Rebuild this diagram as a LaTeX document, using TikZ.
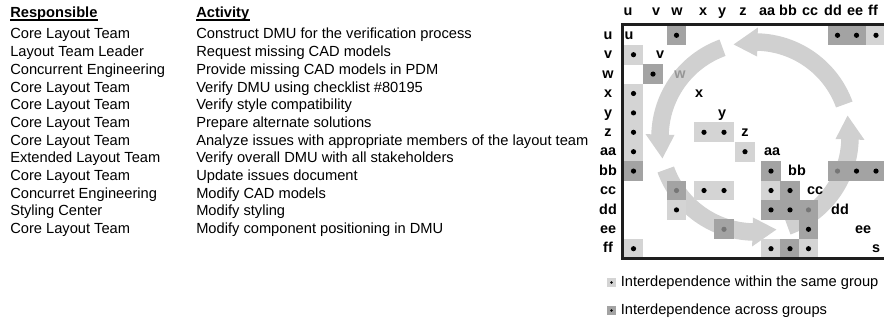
\documentclass[tikz,border=0pt]{standalone}
\usepackage{fontspec}
\setmainfont{Liberation Sans}
\usetikzlibrary{calc}

\definecolor{cellLight}{RGB}{212,212,212}
\definecolor{cellDark}{RGB}{163,163,163}
\definecolor{cycleGray}{RGB}{208,208,208}
\definecolor{dotGray}{RGB}{118,118,118}
\definecolor{labelGray}{RGB}{150,150,150}
\definecolor{frameInk}{RGB}{30,30,30}

\tikzset{
  txt/.style={font=\fontsize{11}{13}\selectfont, inner sep=0pt, anchor=base west},
  hdr/.style={txt, font=\fontsize{11}{13}\selectfont\bfseries},
  ulrule/.style={line width=1.2pt, black},
  mlabel/.style={font=\fontsize{10.8}{13}\selectfont\bfseries, inner sep=0pt, anchor=base},
  cellbox/.style={draw=none, inner sep=0pt, minimum width=14.9pt, minimum height=14.8pt},
  dotmark/.style={circle, inner sep=0pt, minimum size=3.9pt, draw=none},
  keybox/.style={draw=none, inner sep=0pt, minimum size=7pt},
  keydot/.style={circle, inner sep=0pt, minimum size=2pt, fill=black, draw=none},
  frameline/.style={draw=frameInk, line width=2.4pt, line join=miter},
}

% column centres of the matrix (pixel units)
\def\colX{{633.5,653,676.5,704,724,745,771,790,808.5,837.5,856.5,876}}

% one shaded cell of the matrix with its dot: row, column, shade, dot colour
\newcommand\mcell[4]{%
  \pgfmathsetmacro\cx{\colX[#2]}%
  \pgfmathsetmacro\cy{35.3+19.4*#1}%
  \node[cellbox, fill=#3] (cell-#1-#2) at (\cx,\cy) {};
  \node[dotmark, fill=#4] (dot-#1-#2) at (cell-#1-#2.center) {};
}

% one quarter of the cycle: tail angle, tip angle (counter-clockwise, degrees)
\newcommand\cyclearrow[2]{%
  \pgfmathsetmacro\ta{-(#1)}%
  \pgfmathsetmacro\tb{-(#2)}%
  \pgfmathsetmacro\tc{-(#2)+14.5}%
  \fill[cycleGray, shift={(755,137)}]
    (\ta:103.75) arc[start angle=\ta, end angle=\tc, radius=103.75]
    -- (\tc:109.5) -- (\tb:95) -- (\tc:80.5) -- (\tc:86.25)
    arc[start angle=\tc, end angle=\ta, radius=86.25] -- cycle;
}

\begin{document}
\begin{tikzpicture}[x=0.75pt, y=-0.75pt]
\useasboundingbox (0,0) rectangle (884,320);

% ---- responsibility table ----
\node[hdr] (resp) at (10,18) {Responsible};
\node[hdr] (act) at (196,18) {Activity};
\draw[ulrule] ([yshift=-1.6pt]resp.base west) -- ([yshift=-1.6pt]resp.base east);
\draw[ulrule] ([yshift=-1.6pt]act.base west) -- ([yshift=-1.6pt]act.base east);

\foreach \who/\what [count=\i from 0] in {
  Core Layout Team/Construct DMU for the verification process,
  Layout Team Leader/Request missing CAD models,
  Concurrent Engineering/Provide missing CAD models in PDM,
  Core Layout Team/Verify DMU using checklist \#80195,
  Core Layout Team/Verify style compatibility,
  Core Layout Team/Prepare alternate solutions,
  Core Layout Team/Analyze issues with appropriate members of the layout team,
  Extended Layout Team/Verify overall DMU with all stakeholders,
  Core Layout Team/Update issues document,
  Concurret Engineering/Modify CAD models,
  Styling Center/Modify styling,
  Core Layout Team/Modify component positioning in DMU}
{
  \node[txt] (who-\i) at (10,39+17.7*\i) {\who};
  \node[txt] (what-\i) at (196,39+17.7*\i) {\what};
}

% ---- cycle arrows behind the matrix ----
\cyclearrow{20}{103}
\cyclearrow{110}{193}
\cyclearrow{200}{283}
\cyclearrow{290}{373}

% ---- matrix cells ----
% row u
\mcell{0}{2}{cellDark}{black}
\mcell{0}{9}{cellDark}{black}
\mcell{0}{10}{cellDark}{black}
\mcell{0}{11}{cellLight}{black}
% row v
\mcell{1}{0}{cellLight}{black}
% row w
\mcell{2}{1}{cellDark}{black}
% rows x, y
\mcell{3}{0}{cellLight}{black}
\mcell{4}{0}{cellLight}{black}
% row z
\mcell{5}{0}{cellLight}{black}
\mcell{5}{3}{cellLight}{black}
\mcell{5}{4}{cellLight}{black}
% row aa
\mcell{6}{0}{cellLight}{black}
\mcell{6}{5}{cellLight}{black}
% row bb
\mcell{7}{0}{cellDark}{black}
\mcell{7}{6}{cellDark}{black}
\mcell{7}{9}{cellDark}{dotGray}
\mcell{7}{10}{cellDark}{black}
\mcell{7}{11}{cellDark}{black}
% row cc
\mcell{8}{2}{cellDark}{dotGray}
\mcell{8}{3}{cellLight}{black}
\mcell{8}{4}{cellLight}{black}
\mcell{8}{6}{cellLight}{black}
\mcell{8}{7}{cellDark}{black}
% row dd
\mcell{9}{2}{cellLight}{black}
\mcell{9}{6}{cellDark}{black}
\mcell{9}{7}{cellDark}{black}
\mcell{9}{8}{cellDark}{dotGray}
% row ee
\mcell{10}{4}{cellDark}{dotGray}
\mcell{10}{8}{cellDark}{black}
% row ff
\mcell{11}{0}{cellLight}{black}
\mcell{11}{6}{cellLight}{black}
\mcell{11}{7}{cellDark}{black}
\mcell{11}{8}{cellLight}{black}

% ---- frame ----
\draw[frameline] (884,24.8) -- (622.3,24.8) -- (622.3,258.6) -- (884,258.6);

% ---- column and row headings ----
\foreach \name/\hx [count=\i from 0] in {u/628,v/656,w/677,x/703,y/722,z/743,aa/767,bb/788,cc/810,dd/833,ee/855,ff/873}
{
  \node[mlabel] (col-\name) at (\hx,16) {\name};
  \node[mlabel] (row-\name) at (608,39.6+19.4*\i) {\name};
}

% ---- labels on the diagonal ----
\foreach \name/\dx/\dc [count=\i from 0] in {u/629/black,v/660/black,w/680/labelGray,x/699/black,y/722/black,z/745/black,aa/772/black,bb/797/black,cc/815/black,dd/840/black,ee/863/black,s/876/black}
{
  \node[mlabel, text=\dc] (diag-\i) at (\dx,39.6+19.4*\i) {\name};
}

% ---- key ----
\node[keybox, fill=cellLight] (key-same) at (611.5,282.5) {};
\node[keydot] at (key-same.center) {};
\node[txt, anchor=west] (key-same-text) at (620.5,282.5) {Interdependence within the same group};
\node[keybox, fill=cellDark] (key-across) at (611.5,310.5) {};
\node[keydot] at (key-across.center) {};
\node[txt, anchor=west] (key-across-text) at (620.5,310.5) {Interdependence across groups};
\end{tikzpicture}
\end{document}
